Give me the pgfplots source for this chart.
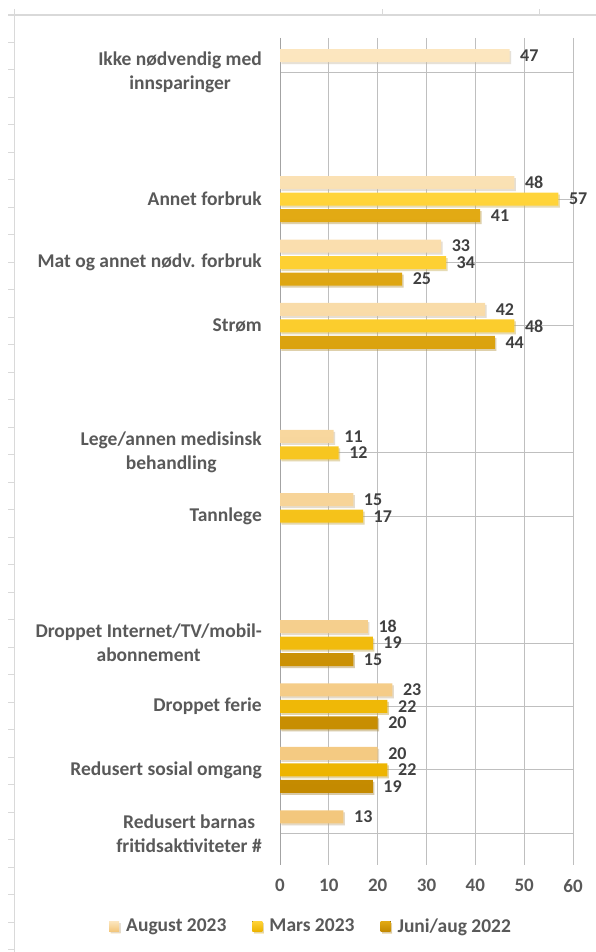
\documentclass[border=0pt]{standalone}
\usepackage{pgfplots}
\pgfplotsset{compat=1.18}
\usepackage{fontspec}
\setmainfont{Carlito}
\usetikzlibrary{shadows}
\definecolor{txt}{HTML}{595959}
\definecolor{lbl}{HTML}{404040}
\definecolor{grid}{HTML}{D9D9D9}
\definecolor{augT}{HTML}{FCE6BF}
\definecolor{augB}{HTML}{F3C77C}
\definecolor{marT}{HTML}{FFD43A}
\definecolor{marB}{HTML}{EDB400}
\definecolor{junT}{HTML}{E2AA14}
\definecolor{junB}{HTML}{C48A00}
\begin{document}
\begin{tikzpicture}[x=1pt,y=1pt]
\useasboundingbox (0,0) rectangle (596,952);
% outer frame lines
\draw[grid, line width=2pt] (8,936.5) -- (596,936.5);
\draw[grid, line width=1pt] (382,936.5) -- (382,943);
\draw[grid, line width=1pt] (539,936.5) -- (539,943);
\draw[grid, line width=1pt] (14,943) -- (14,0);
\foreach \k in {0,...,33} {\draw[grid, line width=0.8pt] (8,{952-42-27.5*\k}) -- (14,{952-42-27.5*\k});}
\begin{axis}[
  at={(280pt,87pt)}, anchor=south west,
  width=293pt, height=827pt, scale only axis,
  xbar, bar width=13pt,
  xmin=0, xmax=60, ymin=-0.54, ymax=12.5, y dir=reverse,
  xtick={0,10,...,60},
  ytick={0,2,3,4,6,7,9,10,11,12},
  yticklabels={{Ikke nødvendig med\\innsparinger},{Annet forbruk},{Mat og annet nødv. forbruk},{Strøm},{Lege/annen medisinsk\\behandling},{Tannlege},{Droppet Internet/TV/mobil-\\abonnement},{Droppet ferie},{Redusert sosial omgang},{Redusert barnas\\fritidsaktiviteter \#}},
  yticklabel style={align=center, anchor=east, inner sep=0pt, xshift=-18pt, font=\fontsize{19.5}{24}\selectfont\bfseries, text=txt},
  xticklabel style={font=\fontsize{19}{20}\selectfont\bfseries, text=txt, inner sep=0pt, yshift=-14pt},
  /pgf/number format/assume math mode=true,
  xmajorgrids, major grid style={grid, line width=1pt},
  axis x line*=bottom, axis y line*=left,
  x axis line style={draw=none},
  y axis line style={draw=grid!75!black, line width=1pt},
  major tick length=0pt,
  nodes near coords,
  every node near coord/.append style={font=\fontsize{18}{18}\selectfont\bfseries, text=lbl, anchor=west, inner sep=0.5pt, xshift=10pt},
  legend columns=3,
  legend style={at={(axis description cs:0.106,-0.0738)}, anchor=center, draw=none, fill=none,
    font=\fontsize{19.5}{20}\selectfont\bfseries, text=txt,
    /tikz/every odd column/.append style={column sep=5pt},
    /tikz/every even column/.append style={column sep=24pt}},
  legend image code/.code={\fill[#1] (0pt,-5pt) rectangle (10pt,5pt);},
  clip=false,
]
\addplot[draw=none, top color=augT, bottom color=augB, bar shift=16.5pt,
  drop shadow={shadow xshift=1.5pt, shadow yshift=-2pt, opacity=0.25}]
  coordinates {(47,0) (48,2) (33,3) (42,4) (11,6) (15,7) (18,9) (23,10) (20,11) (13,12)};
\addplot[draw=none, top color=marT, bottom color=marB, bar shift=0pt,
  drop shadow={shadow xshift=1.5pt, shadow yshift=-2pt, opacity=0.25}]
  coordinates {(57,2) (34,3) (48,4) (12,6) (17,7) (19,9) (22,10) (22,11)};
\addplot[draw=none, top color=junT, bottom color=junB, bar shift=-16.5pt,
  drop shadow={shadow xshift=1.5pt, shadow yshift=-2pt, opacity=0.25}]
  coordinates {(41,2) (25,3) (44,4) (15,9) (20,10) (19,11)};
\legend{August 2023, Mars 2023, Juni/aug 2022}
\end{axis}
\end{tikzpicture}
\end{document}
